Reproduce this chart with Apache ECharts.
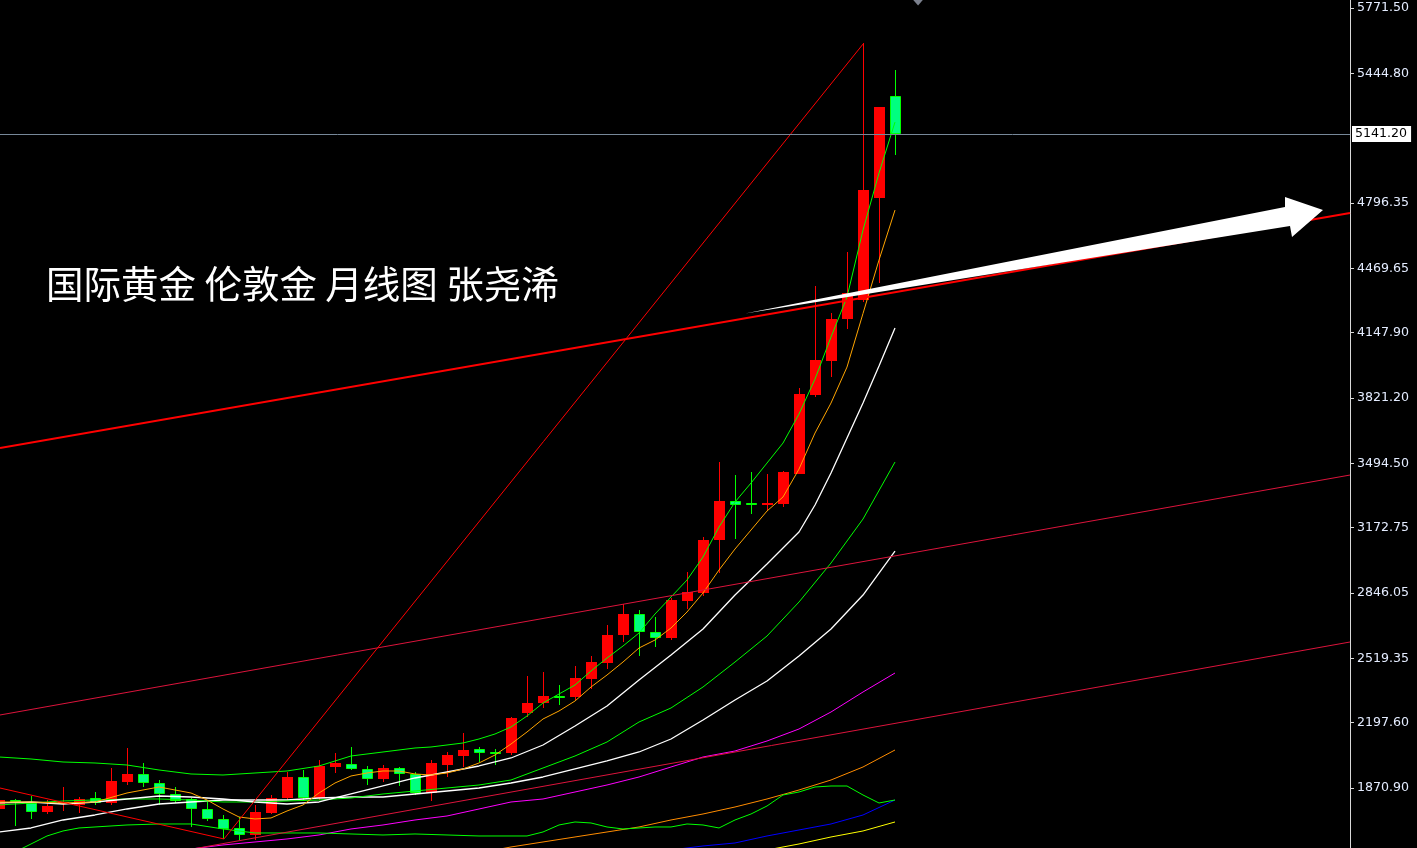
<!DOCTYPE html>
<html><head><meta charset="utf-8">
<script src="https://cdn.jsdelivr.net/npm/echarts@6/dist/echarts.min.js"></script>
<style>html,body{margin:0;padding:0;background:#000;}#c{width:1417px;height:848px;}</style>
</head><body><div id="c"></div>
<script>
// candle index of the first entry (partially cut on the left)
const firstIndex = -1;
// monthly candles: [open, close, low, high]
const candles = [
[1766.5,1811.5,1761.5,1816.5],[1811.5,1801.5,1681.5,1816.5],[1796.5,1751.5,1716.5,1831.5],
[1751.5,1781.5,1741.5,1811.5],[1796.5,1801.5,1756.5,1876.5],[1786.5,1816.5,1746.5,1826.5],
[1821.5,1796.5,1786.5,1851.5],[1796.5,1906.5,1786.5,1971.5],[1901.5,1941.5,1886.5,2071.5],
[1941.5,1896.5,1876.5,1996.5],[1896.5,1841.5,1786.5,1911.5],[1841.5,1806.5,1796.5,1876.5],
[1816.5,1766.5,1676.5,1821.5],[1766.5,1716.5,1706.5,1801.5],[1716.5,1666.5,1616.5,1736.5],
[1671.5,1636.5,1611.5,1726.5],[1636.5,1751.5,1611.5,1786.5],[1746.5,1821.5,1741.5,1836.5],
[1821.5,1926.5,1811.5,1951.5],[1926.5,1821.5,1811.5,1961.5],[1821.5,1981.5,1811.5,2011.5],
[1976.5,1996.5,1946.5,2046.5],[1991.5,1966.5,1961.5,2076.5],[1966.5,1916.5,1886.5,1981.5],
[1916.5,1971.5,1901.5,1986.5],[1971.5,1941.5,1881.5,1976.5],[1941.5,1846.5,1836.5,1951.5],
[1846.5,1996.5,1806.5,2011.5],[1986.5,2036.5,1926.5,2051.5],[2031.5,2061.5,1976.5,2146.5],
[2066.5,2046.5,2001.5,2076.5],[2051.5,2041.5,1986.5,2066.5],[2046.5,2221.5,2036.5,2226.5],
[2246.5,2296.5,2226.5,2431.5],[2296.5,2331.5,2271.5,2451.5],[2331.5,2321.5,2286.5,2386.5],
[2326.5,2421.5,2311.5,2481.5],[2416.5,2501.5,2366.5,2531.5],[2496.5,2636.5,2466.5,2686.5],
[2636.5,2741.5,2601.5,2791.5],[2741.5,2651.5,2531.5,2761.5],[2651.5,2621.5,2576.5,2726.5],
[2621.5,2811.5,2611.5,2821.5],[2806.5,2851.5,2766.5,2951.5],[2846.5,3111.5,2831.5,3126.5],
[3111.5,3306.5,2946.5,3501.5],[3306.5,3286.5,3116.5,3436.5],[3296.5,3286.5,3241.5,3451.5],
[3286.5,3296.5,3256.5,3441.5],[3291.5,3451.5,3276.5,3456.5],[3441.5,3841.5,3441.5,3871.5],
[3836.5,4011.5,3826.5,4381.5],[4006.5,4216.5,3926.5,4246.5],[4216.5,4346.5,4166.5,4551.5],
[4311.5,4861.5,4301.5,5596.5],[4821.5,5276.5,4396.5,5276.5],[5331.5,5141.2,5036.5,5461.5]
];
// indicator lines: [candle index, price]
const bbUpper = [[-1,2026],[1,2016],[3,2001],[5,1996],[7,1986],[9,1961],[11,1941],[13,1936],[15,1946],[17,1956],[19,1981],[21,2031],[23,2051],[25,2071],[26,2076],[27,2086],[28,2096],[29,2116],[30,2141],[31,2176],[32,2231],[33,2296],[34,2341],[35,2386],[36,2456],[37,2521],[38,2581],[39,2646],[40,2741],[41,2826],[42,2911],[43,3026],[44,3176],[45,3301],[46,3396],[47,3496],[48,3596],[49,3741],[50,3916],[51,4126],[52,4326],[53,4661],[54,4946],[55,5201]];
const bbMid = [[-1,1786],[1,1796],[3,1806],[5,1811],[7,1816],[9,1816],[11,1811],[13,1801],[15,1801],[17,1806],[19,1811],[21,1821],[23,1841],[25,1856],[27,1871],[29,1886],[31,1911],[33,1971],[35,2031],[37,2101],[39,2201],[41,2271],[43,2376],[45,2501],[47,2631],[49,2801],[51,2996],[53,3216],[55,3501]];
const bbLower = [[0,1551],[1,1591],[2,1631],[3,1656],[4,1671],[5,1676],[7,1686],[9,1691],[11,1691],[13,1666],[15,1646],[17,1646],[19,1646],[21,1641],[23,1636],[25,1641],[27,1636],[29,1631],[31,1631],[32,1631],[33,1651],[34,1686],[35,1701],[36,1696],[37,1676],[38,1666],[40,1676],[41,1676],[42,1691],[43,1686],[44,1671],[45,1711],[46,1741],[47,1781],[48,1836],[49,1851],[50,1876],[51,1881],[52,1881],[53,1836],[54,1796],[55,1811]];
const maOrangeFast = [[-1,1801],[1,1801],[3,1796],[5,1801],[7,1846],[9,1876],[11,1846],[12,1811],[13,1766],[14,1726],[15,1716],[16,1721],[17,1756],[18,1786],[19,1846],[20,1896],[21,1931],[22,1946],[23,1956],[24,1956],[25,1941],[26,1936],[27,1946],[28,1966],[29,1996],[30,2036],[31,2091],[32,2151],[33,2216],[34,2256],[35,2306],[36,2376],[37,2436],[38,2501],[39,2571],[40,2611],[41,2671],[42,2751],[43,2846],[44,2961],[45,3066],[46,3161],[47,3256],[48,3326],[49,3466],[50,3646],[51,3796],[52,3976],[53,4244],[54,4511],[55,4761]];
const maWhiteFast = [[-1,1796],[1,1801],[3,1791],[5,1801],[7,1816],[9,1831],[11,1826],[13,1816],[15,1801],[17,1791],[19,1801],[21,1841],[23,1881],[25,1921],[27,1951],[29,1981],[31,2021],[33,2086],[35,2181],[37,2281],[39,2411],[41,2536],[43,2666],[45,2836],[47,2991],[49,3151],[50,3286],[51,3446],[52,3621],[53,3796],[54,3981],[55,4171]];
const maWhiteSlow = [[-1,1651],[1,1671],[3,1711],[5,1736],[7,1766],[9,1791],[11,1801],[13,1811],[15,1811],[17,1811],[19,1821],[21,1826],[23,1826],[25,1841],[27,1856],[29,1871],[31,1896],[33,1926],[35,1966],[37,2006],[39,2051],[41,2116],[43,2211],[45,2311],[47,2406],[49,2531],[51,2666],[53,2836],[54,2946],[55,3056]];
const maMagenta = [[11,1566],[13,1586],[15,1601],[17,1616],[19,1636],[21,1666],[23,1686],[25,1711],[27,1731],[29,1766],[31,1801],[33,1816],[35,1851],[37,1886],[39,1926],[41,1976],[43,2026],[45,2056],[47,2106],[49,2166],[51,2251],[53,2351],[55,2446]];
const maOrangeSlow = [[30,1561],[31,1576],[33,1601],[35,1626],[37,1651],[39,1676],[41,1711],[43,1741],[45,1776],[47,1816],[49,1861],[51,1911],[53,1976],[55,2061]];
const maBlue = [[41,1561],[43,1581],[45,1596],[47,1631],[49,1661],[51,1691],[53,1736],[55,1811]];
const maYellow = [[47,1561],[49,1591],[51,1626],[53,1656],[55,1701]];
// drawn trend lines (two anchor points each, in candle index / price)
const trendThick = [[-0.9375,3571],[83.4375,4746]];
const trendUpperThin = [[-0.9375,2236],[83.4375,3436]];
const trendLowerThin = [[10,1550],[83.4375,2601]];
const trendDown = [[-1,1872],[13.06,1616]];
const trendSteep = [[13.06,1616],[53,5591]];
// arrow outline (candle index / price)
const arrowPts = [[45.625,4243.5],[79.375,4776],[79.375,4826],[81.75,4761],[79.8125,4626],[79.6875,4681]];
const chartShiftMark = [[56.44,5801]];
const lastPrice = 5141.20;
const yTicks = [5771.50,5444.80,4796.35,4469.65,4147.90,3821.20,3494.50,3172.75,2846.05,2519.35,2197.60,1870.90];
const titleText = '国际黄金 伦敦金 月线图 张尧浠';

const candleData = candles.map((c, i) => [i + firstIndex, c[0], c[1], c[2], c[3]]);

function renderCandle(params, api) {
  const idx = api.value(0), o = api.value(1), c = api.value(2), l = api.value(3), h = api.value(4);
  const po = api.coord([idx, o]), pc = api.coord([idx, c]);
  const pl = api.coord([idx, l]), ph = api.coord([idx, h]);
  const cx = Math.round(po[0]);
  const w = Math.round(api.size([1, 0])[0] * 0.6875);
  const half = Math.floor(w / 2);
  const up = c >= o;
  const top = Math.round(Math.min(po[1], pc[1]));
  const bot = Math.round(Math.max(po[1], pc[1]));
  const hgt = Math.max(bot - top, 2);
  const wickColor = up ? '#ff0000' : '#00ff00';
  const children = [{
    type: 'line',
    shape: { x1: cx + 0.5, y1: Math.round(ph[1]), x2: cx + 0.5, y2: Math.round(pl[1]) },
    style: { stroke: wickColor, lineWidth: 1 }
  }];
  if (up) {
    children.push({ type: 'rect', shape: { x: cx - half, y: top, width: w, height: hgt }, style: { fill: '#ff0000' } });
  } else {
    children.push({ type: 'rect', shape: { x: cx - half + 0.5, y: top + 0.5, width: w - 1, height: hgt - 1 }, style: { fill: '#00ff7f', stroke: '#00ff00', lineWidth: 1 } });
  }
  return { type: 'group', children };
}

function renderArrow(params, api) {
  const pts = arrowPts.map(p => api.coord(p));
  return { type: 'polygon', shape: { points: pts }, style: { fill: '#ffffff' } };
}

function lineSeries(data, color, width, z) {
  return { type: 'line', data, showSymbol: false, symbol: 'none', clip: true, z: z || 3,
    lineStyle: { color, width: width || 1 }, silent: true, animation: false };
}

const chart = echarts.init(document.getElementById('c'));
chart.setOption({
  backgroundColor: '#000000',
  animation: false,
  title: { text: titleText, left: 46, top: 265, padding: 0,
    textStyle: { color: '#ffffff', fontSize: 37.5, fontWeight: 'normal', fontFamily: 'Noto Sans CJK SC' } },
  grid: { left: 0, right: 67, top: 0, bottom: 0, containLabel: false },
  xAxis: { type: 'value', min: -0.9375, max: 83.4375, show: false },
  yAxis: {
    type: 'value', position: 'right', min: 1570.9, max: 5811.5, scale: true,
    splitLine: { show: false },
    axisLine: { show: true, onZero: false, lineStyle: { color: '#d8d8d8', width: 1 } },
    axisTick: { show: true, length: 4, customValues: yTicks, lineStyle: { color: '#d8d8d8' } },
    axisLabel: { customValues: yTicks, margin: 7, color: '#e4ecff', fontSize: 12.6,
      fontFamily: 'DejaVu Sans', formatter: v => v.toFixed(2) }
  },
  series: [
    { type: 'custom', renderItem: renderCandle, data: candleData, encode: { x: 0, y: [1, 2, 3, 4] }, z: 2, clip: true, silent: true },
    lineSeries(maYellow, '#ffff00'),
    lineSeries(maBlue, '#0000ff'),
    lineSeries(maOrangeSlow, '#ff8c00'),
    lineSeries(maMagenta, '#ff00ff'),
    lineSeries(bbLower, '#00ff00'),
    lineSeries(maWhiteSlow, '#ffffff', 1.3),
    lineSeries(bbMid, '#00ff00'),
    lineSeries(maWhiteFast, '#ffffff', 1.3),
    lineSeries(maOrangeFast, '#ffa500'),
    lineSeries(bbUpper, '#00ff00'),
    lineSeries(trendUpperThin, '#dc143c', 1, 4),
    lineSeries(trendLowerThin, '#dc143c', 1, 4),
    lineSeries(trendDown, '#ff0000', 1, 4),
    lineSeries(trendSteep, '#ff0000', 1, 4),
    lineSeries(trendThick, '#ff0000', 2, 4),
    { type: 'line', data: [], z: 4, silent: true,
      markLine: { silent: true, symbol: ['none', 'none'], animation: false,
        data: [{ yAxis: lastPrice }],
        lineStyle: { color: '#778899', width: 1, type: 'solid' },
        label: { show: true, position: 'end', distance: 2, formatter: lastPrice.toFixed(2),
          color: '#000000', backgroundColor: '#ffffff', padding: [2, 4, 1, 3],
          fontSize: 12.6, fontFamily: 'DejaVu Sans' } } },
    { type: 'custom', renderItem: renderArrow, data: [arrowPts[0]], z: 6, silent: true, clip: false },
    { type: 'scatter', data: chartShiftMark, symbol: 'triangle', symbolRotate: 180, symbolSize: [12, 7],
      itemStyle: { color: '#9aa0b0' }, z: 6, silent: true }
  ]
});
</script></body></html>
